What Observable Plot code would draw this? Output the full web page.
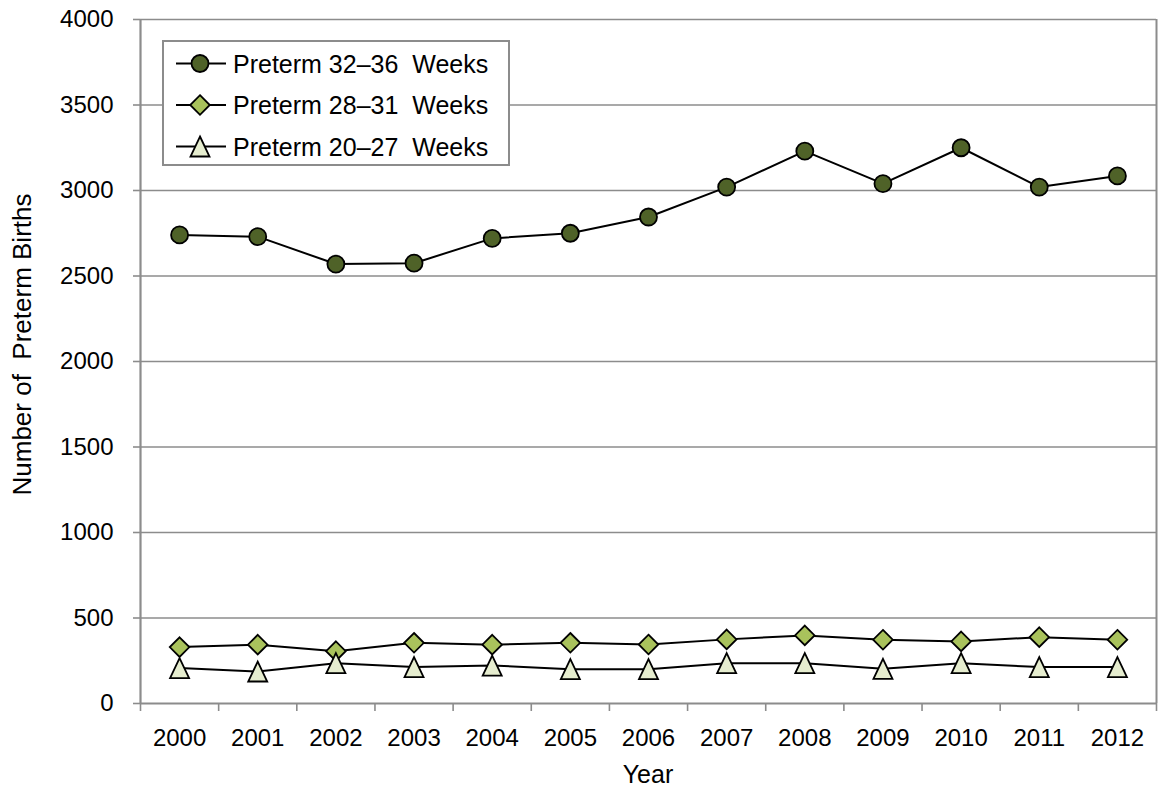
<!DOCTYPE html>
<html>
<head>
<meta charset="utf-8">
<script src="https://cdn.jsdelivr.net/npm/d3@7"></script>
<script src="https://cdn.jsdelivr.net/npm/@observablehq/plot@0.6"></script>
<style>
  html, body { margin: 0; padding: 0; background: #fff; }
  #wrap { position: relative; width: 1158px; height: 787px; font-family: "Liberation Sans", Arial, sans-serif; }
  #legend { position: absolute; left: 0; top: 0; pointer-events: none; }
  text { white-space: pre; }
</style>
</head>
<body>
<div id="wrap"></div>
<script>
// ---- data ----
const years = [2000, 2001, 2002, 2003, 2004, 2005, 2006, 2007, 2008, 2009, 2010, 2011, 2012];
const preterm32to36 = [2740, 2730, 2570, 2575, 2720, 2750, 2845, 3020, 3230, 3040, 3250, 3020, 3085];
const preterm28to31 = [330, 344, 306, 355, 344, 355, 345, 375, 398, 373, 363, 388, 373];
const preterm20to27 = [207, 187, 236, 213, 222, 201, 201, 236, 236, 203, 236, 213, 213];
const seriesNames = ["Preterm 32\u201336  Weeks", "Preterm 28\u201331  Weeks", "Preterm 20\u201327  Weeks"];
const yTicks = [0, 500, 1000, 1500, 2000, 2500, 3000, 3500, 4000];
const xLabel = "Year";
const yLabel = "Number of  Preterm Births";

// ---- symbols (Excel-like markers, centered on their box) ----
const diamondSym = { draw(ctx, size) { const r = Math.sqrt(size / Math.PI); ctx.moveTo(0, -r); ctx.lineTo(r, 0); ctx.lineTo(0, r); ctx.lineTo(-r, 0); ctx.closePath(); } };
const triangleSym = { draw(ctx, size) { const r = Math.sqrt(size / Math.PI); ctx.moveTo(0, -r); ctx.lineTo(r * 0.95, r); ctx.lineTo(-r * 0.95, r); ctx.closePath(); } };

const styles = [
  { symbol: "circle", fill: "#4f6228", r: 8.5 },
  { symbol: diamondSym, fill: "#a9c25c", r: 9.8 },
  { symbol: triangleSym, fill: "#e6edcf", r: 10 }
];
const seriesValues = [preterm32to36, preterm28to31, preterm20to27];

const rows = [];
seriesValues.forEach((vals, s) => vals.forEach((v, i) => rows.push({ year: years[i], value: v, series: s })));

const boundaries = [...years.map(y => y - 0.5), years[years.length - 1] + 0.5];
const grid = "#8c8c8c";

const marks = [
  Plot.ruleY(yTicks.filter(d => d > 0), { stroke: grid, strokeWidth: 1.6 }),
  Plot.ruleX([boundaries[boundaries.length - 1]], { stroke: grid, strokeWidth: 2 }),
  Plot.axisY({ ticks: yTicks, tickSize: 7, tickPadding: 20, tickFormat: d => String(d), label: null, stroke: grid, strokeWidth: 1.6, fill: "#000", fontSize: 24 }),
  Plot.axisX({ ticks: years, tickSize: 0, tickPadding: 25, tickFormat: d => String(d), label: null, fill: "#000", fontSize: 24 }),
  Plot.axisX({ ticks: boundaries, tickSize: 8, tickFormat: () => "", label: null, stroke: grid, strokeWidth: 1.6 }),
  Plot.ruleX([boundaries[0]], { stroke: grid, strokeWidth: 2.2 }),
  Plot.ruleY([0], { stroke: grid, strokeWidth: 2.2 })
];
seriesValues.forEach((vals, s) => {
  const data = rows.filter(d => d.series === s);
  marks.push(Plot.line(data, { x: "year", y: "value", stroke: "#000", strokeWidth: 2 }));
});
seriesValues.forEach((vals, s) => {
  const data = rows.filter(d => d.series === s);
  marks.push(Plot.dot(data, { x: "year", y: "value", symbol: () => styles[s].symbol, r: styles[s].r, fill: styles[s].fill, stroke: "#000", strokeWidth: 1.8 }));
});

const plot = Plot.plot({
  width: 1158,
  height: 787,
  marginLeft: 140,
  marginRight: 2,
  marginTop: 19,
  marginBottom: 84,
  style: { fontFamily: "'Liberation Sans', Arial, sans-serif", fontSize: "24px", color: "#000", background: "#fff", overflow: "visible" },
  x: { type: "linear", domain: [boundaries[0], boundaries[boundaries.length - 1]] },
  y: { domain: [0, 4000] },
  symbol: { type: "identity" },
  marks
});

document.getElementById("wrap").appendChild(plot);

// axis titles
const svg = d3.select(plot);
svg.append("text")
  .attr("transform", "translate(31,344.5) rotate(-90)")
  .attr("text-anchor", "middle")
  .attr("font-size", 26)
  .attr("fill", "#000")
  .style("white-space", "pre")
  .text(yLabel);
svg.append("text")
  .attr("x", 648).attr("y", 783)
  .attr("text-anchor", "middle")
  .attr("font-size", 25)
  .attr("fill", "#000")
  .text(xLabel);

// legend
const lg = d3.select("#wrap").append("svg")
  .attr("id", "legend").attr("width", 1158).attr("height", 787)
  .style("font-family", "'Liberation Sans', Arial, sans-serif");
lg.append("rect").attr("x", 163).attr("y", 41).attr("width", 346).attr("height", 124)
  .attr("fill", "#fff").attr("stroke", grid).attr("stroke-width", 2);
const rowY = [63.5, 105, 146.5];
seriesNames.forEach((name, s) => {
  const y = rowY[s];
  lg.append("line").attr("x1", 176).attr("x2", 226).attr("y1", y).attr("y2", y).attr("stroke", "#000").attr("stroke-width", 2);
  const sym = styles[s].symbol === "circle" ? d3.symbolCircle : styles[s].symbol;
  const r = styles[s].r;
  lg.append("path").attr("transform", `translate(200,${y})`)
    .attr("d", d3.symbol(sym, Math.PI * r * r)())
    .attr("fill", styles[s].fill).attr("stroke", "#000").attr("stroke-width", 1.8);
  lg.append("text").attr("x", 233).attr("y", y + 9).attr("font-size", 25).attr("fill", "#000")
    .style("white-space", "pre").text(name);
});
</script>
</body>
</html>
